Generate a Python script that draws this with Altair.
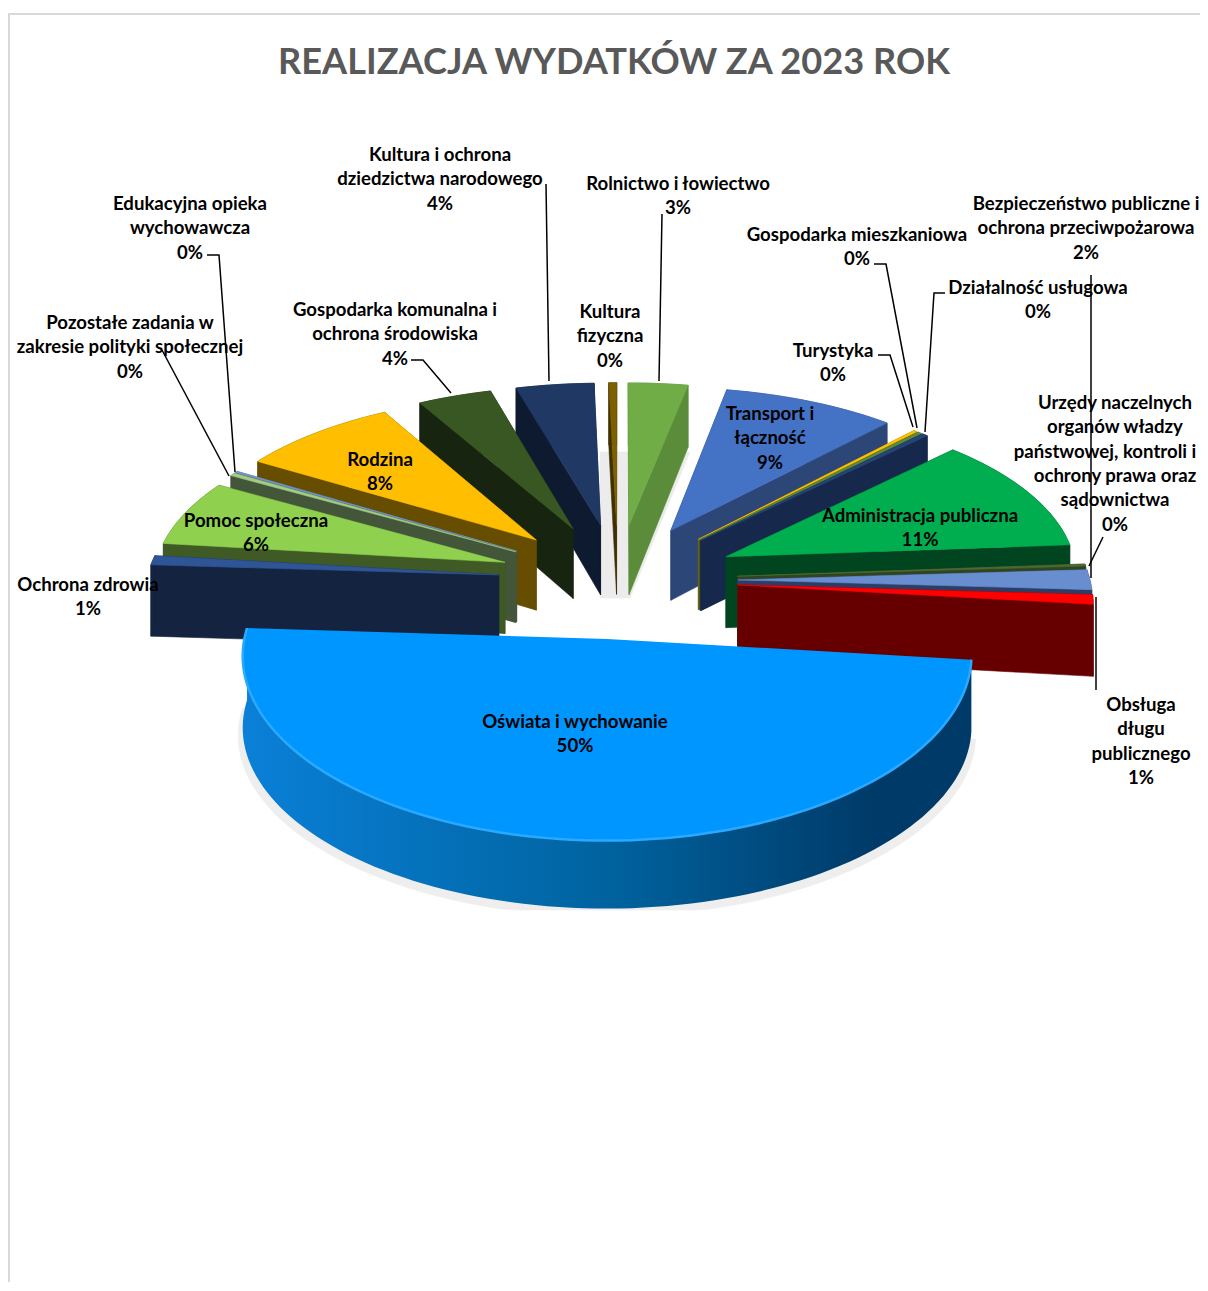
import math
import altair as alt

# --- chart data -------------------------------------------------------------
TITLE = "REALIZACJA WYDATKÓW ZA 2023 ROK"
categories = ["Rolnictwo i łowiectwo", "Transport i łączność", "Gospodarka mieszkaniowa", "Turystyka",
              "Działalność usługowa", "Administracja publiczna", "Urzędy naczelnych organów",
              "Bezpieczeństwo publiczne", "Obsługa długu publicznego", "Oświata i wychowanie",
              "Ochrona zdrowia", "Pomoc społeczna", "Pozostałe zadania", "Edukacyjna opieka wychowawcza",
              "Rodzina", "Gospodarka komunalna", "Kultura i ochrona dziedzictwa", "Kultura fizyczna"]
shares = [3.05, 8.9, 0.2, 0.2, 0.3, 11.3, 0.2, 1.9, 0.9, 49.4, 0.9, 6.4, 0.3, 0.15, 8.2, 3.8, 4.0, 0.4]

# --- styles -----------------------------------------------------------------
top_colors = ["#70AD47", "#4472C4", "#FFC000", "#5E8C3E", "#264478", "#00AD4F", "#4D6B30", "#698ED0", "#FF0000",
              "#0096FF", "#2F5597", "#8FD14F", "#A3CC85", "#7096D8", "#FFBF00", "#385723", "#1F3864", "#7F6000"]
wall_colors = ["#5B8C3A", "#2C4777", "#7F6000", "#3D5C28", "#16294C", "#004520", "#2F4420", "#2C3E66", "#660000",
               "#00396B", "#14233F", "#3F5A25", "#44563A", "#44563A", "#664D00", "#172410", "#0E1A30", "#3F3000"]

label_texts = [
    (["Kultura i ochrona", "dziedzictwa narodowego", "4%"], 440, 155),
    (["Rolnictwo i łowiectwo", "3%"], 678, 184),
    (["Bezpieczeństwo publiczne i", "ochrona przeciwpożarowa", "2%"], 1086, 204),
    (["Gospodarka mieszkaniowa", "0%"], 857, 235),
    (["Działalność usługowa", "0%"], 1038, 288),
    (["Edukacyjna opieka", "wychowawcza", "0%"], 190, 204),
    (["Pozostałe zadania w", "zakresie polityki społecznej", "0%"], 130, 323),
    (["Gospodarka komunalna i", "ochrona środowiska", "4%"], 395, 310),
    (["Kultura", "fizyczna", "0%"], 610, 312),
    (["Turystyka", "0%"], 833, 351),
    (["Transport i", "łączność", "9%"], 770, 414),
    (["Urzędy naczelnych", "organów władzy"], 1115, 403),
    (["państwowej, kontroli i"], 1105, 452),
    (["ochrony prawa oraz", "sądownictwa", "0%"], 1115, 476),
    (["Rodzina", "8%"], 380, 460),
    (["Pomoc społeczna", "6%"], 256, 521),
    (["Administracja publiczna", "11%"], 920, 516),
    (["Ochrona zdrowia", "1%"], 88, 585),
    (["Oświata i wychowanie", "50%"], 575, 722),
    (["Obsługa", "długu", "publicznego", "1%"], 1141, 705),
]
leaders = [
    [(662, 214), (659, 381)],
    [(546, 184), (549, 381)],
    [(411, 360), (423, 360), (451, 393)],
    [(207, 255), (219, 255), (235, 472)],
    [(162, 350), (229, 476)],
    [(874, 264), (886, 264), (917, 428)],
    [(945, 293), (934, 293), (925, 432)],
    [(878, 355), (890, 355), (913, 427)],
    [(1091, 275), (1091, 578)],
    [(1103, 537), (1089, 566)],
    [(1096, 597), (1096, 690)],
]

# --- 3D pie model -----------------------------------------------------------
CX, CY, RADIUS, EXPLODE, TILT, CAMERA, DEPTH = 618, 580, 352, 120, 0.476, 3400, 72


def project(ground_x, ground_y, z=0.0):
    s = 1 / (1 - ground_y / CAMERA)
    return [CX + ground_x * s ** 0.85, CY + TILT * ground_y * s + z]


def depth_at(ground_y):
    return DEPTH + min(0, ground_y) / 470 * 10 - max(0, ground_y - 120) / 350 * 4


def rim(theta, bis):
    gx = EXPLODE * math.sin(bis) + RADIUS * math.sin(theta)
    gy = -EXPLODE * math.cos(bis) - RADIUS * math.cos(theta)
    return gx, gy


def poly(points, fill):
    ring = [list(p) for p in points]
    ring.append(ring[0])
    return {"type": "Feature", "geometry": {"type": "Polygon", "coordinates": [ring]},
            "properties": {"fill": fill}}


total = sum(shares)
slices = []
acc = 0.0
for i, v in enumerate(shares):
    a0 = acc / total * 2 * math.pi
    acc += v
    a1 = acc / total * 2 * math.pi
    slices.append((i, a0, a1, (a0 + a1) / 2))
slices.sort(key=lambda s: -math.cos(s[3]))

features = [poly([(600, 452), (690, 452), (630, 598), (600, 598)], "#ececec")]

# soft shadow of the largest slice
blue = next(s for s in slices if shares[s[0]] == max(shares))
steps = 70
shadow = []
for k in range(steps + 1):
    t = blue[1] + (blue[2] - blue[1]) * k / steps
    gx, gy = rim(t, blue[3])
    p = project(gx, gy)
    shadow.append([CX + (p[0] - CX) * 1.012, min(p[1] + depth_at(gy) + 8, 910)])
features.append(poly(shadow, "#eeeeee"))

highlight = []
blue_wall = []
blue_top = []
for idx, a0, a1, bis in slices:
    top, wall = top_colors[idx], wall_colors[idx]
    ax, ay = EXPLODE * math.sin(bis), -EXPLODE * math.cos(bis)
    n = max(2, int((a1 - a0) / 0.03))
    thetas = [a0 + (a1 - a0) * k / n for k in range(n + 1)]
    rims = [rim(t, bis) for t in thetas]
    apex_top = project(ax, ay)
    apex_bot = project(ax, ay, depth_at(ay))
    is_big = shares[idx] == max(shares)
    outline = [project(*g) for g in rims]
    lower = [project(g[0], g[1], depth_at(g[1])) for g in rims]
    if is_big:
        blue_wall.append(poly(outline + lower[::-1], wall))
        blue_top.append(poly([apex_top] + outline, top))
        highlight = outline
        continue
    # radial cut faces
    for gx, gy in (rims[0], rims[-1]):
        features.append(poly([apex_top, project(gx, gy), project(gx, gy, depth_at(gy)), apex_bot], wall))
    # outer wall
    features.append(poly(outline + lower[::-1], wall))
    # top surface
    features.append(poly([apex_top] + outline, top))

border_lines = [[(9, 1291), (9, 14), (1208, 14)]]


def line_features(lines):
    return [{"type": "Feature", "geometry": {"type": "LineString", "coordinates": [list(p) for p in ln]},
             "properties": {}} for ln in lines]


label_rows = []
for lines, cx, y0 in label_texts:
    for j, t in enumerate(lines):
        label_rows.append({"t": t, "lon": cx, "lat": y0 + j * 24.45})

shapes = alt.Chart(alt.InlineData(values=features)).mark_geoshape(strokeWidth=0.6).encode(
    fill=alt.Fill("properties.fill:N", scale=None),
    stroke=alt.Stroke("properties.fill:N", scale=None),
)
wall_gradient = alt.Gradient(
    gradient="linear", x1=0, x2=1, y1=0, y2=0,
    stops=[alt.GradientStop(offset=0, color="#0A80D8"), alt.GradientStop(offset=0.5, color="#00639F"),
           alt.GradientStop(offset=0.87, color="#003A68"), alt.GradientStop(offset=1, color="#003A68")],
)
oswiata_wall = alt.Chart(alt.InlineData(values=blue_wall)).mark_geoshape(fill=wall_gradient, strokeWidth=0)
oswiata_top = alt.Chart(alt.InlineData(values=blue_top)).mark_geoshape(fill="#0096FF", strokeWidth=0)
bevel = alt.Chart(alt.InlineData(values=line_features([highlight]))).mark_geoshape(
    filled=False, stroke="#2AA9FF", strokeWidth=2.5)
border = alt.Chart(alt.InlineData(values=line_features(border_lines))).mark_geoshape(
    filled=False, stroke="#D9D9D9", strokeWidth=2)
leader_layer = alt.Chart(alt.InlineData(values=line_features(leaders))).mark_geoshape(
    filled=False, stroke="#000000", strokeWidth=1.5)
labels = alt.Chart(alt.InlineData(values=label_rows)).mark_text(
    font="Lato", fontWeight="bold", fontSize=18.6, color="#000000", align="center", baseline="middle"
).encode(longitude="lon:Q", latitude="lat:Q", text="t:N")
title = alt.Chart(alt.InlineData(values=[{"t": TITLE, "lon": 614, "lat": 63}])).mark_text(
    font="Lato", fontWeight="bold", fontSize=36.2, color="#595959", align="center", baseline="middle"
).encode(longitude="lon:Q", latitude="lat:Q", text="t:N")

chart = alt.layer(border, shapes, oswiata_wall, oswiata_top, bevel, leader_layer, labels, title).project(
    type="identity", scale=1, translate=[-8, -8]
).properties(width=1192, height=1274, padding=0, autosize=alt.AutoSizeParams(type="none"),
             background="white").configure_view(stroke=None)

chart.save("out.html", embed_options={"renderer": "svg", "actions": False})
